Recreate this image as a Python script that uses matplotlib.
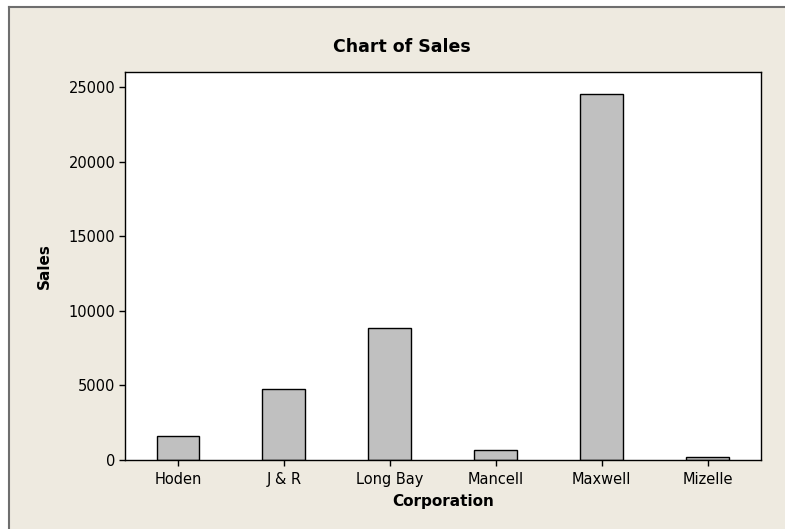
import matplotlib.pyplot as plt
from matplotlib.patches import Rectangle
from matplotlib.lines import Line2D

corporations = ['Hoden', 'J & R', 'Long Bay', 'Mancell', 'Maxwell', 'Mizelle']
sales = [1600, 4750, 8850, 650, 24560, 200]
y_ticks = [0, 5000, 10000, 15000, 20000, 25000]

W, H = 785, 529
fig = plt.figure(figsize=(W / 100, H / 100), dpi=100, facecolor='white')

# beige panel, grey frame only on the left and top
fig.patches.append(Rectangle((9 / W, 0), 1, (H - 7) / H, transform=fig.transFigure,
                             facecolor='#EEEAE0', edgecolor='none', zorder=-10))
fig.lines.append(Line2D([9 / W, 9 / W], [0, (H - 7) / H], transform=fig.transFigure,
                        color='#6E6E6E', linewidth=1.5))
fig.lines.append(Line2D([9 / W, 1], [(H - 7) / H, (H - 7) / H], transform=fig.transFigure,
                        color='#6E6E6E', linewidth=1.5))

ax = fig.add_axes([125 / W, (H - 459.5) / H, (760.7 - 125) / W, (459.5 - 71.7) / H])
ax.set_facecolor('white')

x = list(range(len(corporations)))
ax.bar(x, sales, width=0.405, color='#C0C0C0', edgecolor='black', linewidth=1.0)

ax.set_xlim(-0.5, 5.5)
ax.set_ylim(0, 26050)
ax.set_xticks(x)
ax.set_xticklabels(corporations)
ax.set_yticks(y_ticks)
ax.set_yticklabels([str(v) for v in y_ticks])
ax.tick_params(axis='both', direction='out', length=4, width=1, labelsize=10.5,
               colors='black', pad=3)
ax.tick_params(axis='x', pad=5)
for s in ax.spines.values():
    s.set_color('black')
    s.set_linewidth(1.0)

ax.set_xlabel('Corporation', fontsize=11, fontweight='bold', labelpad=5)
ax.set_ylabel('Sales', fontsize=11, fontweight='bold', labelpad=12)

fig.text(402 / W, 1 - 47 / H, 'Chart of Sales', ha='center', va='center',
         fontsize=12.5, fontweight='bold')

fig.savefig('out.png', dpi=100, facecolor=fig.get_facecolor())
